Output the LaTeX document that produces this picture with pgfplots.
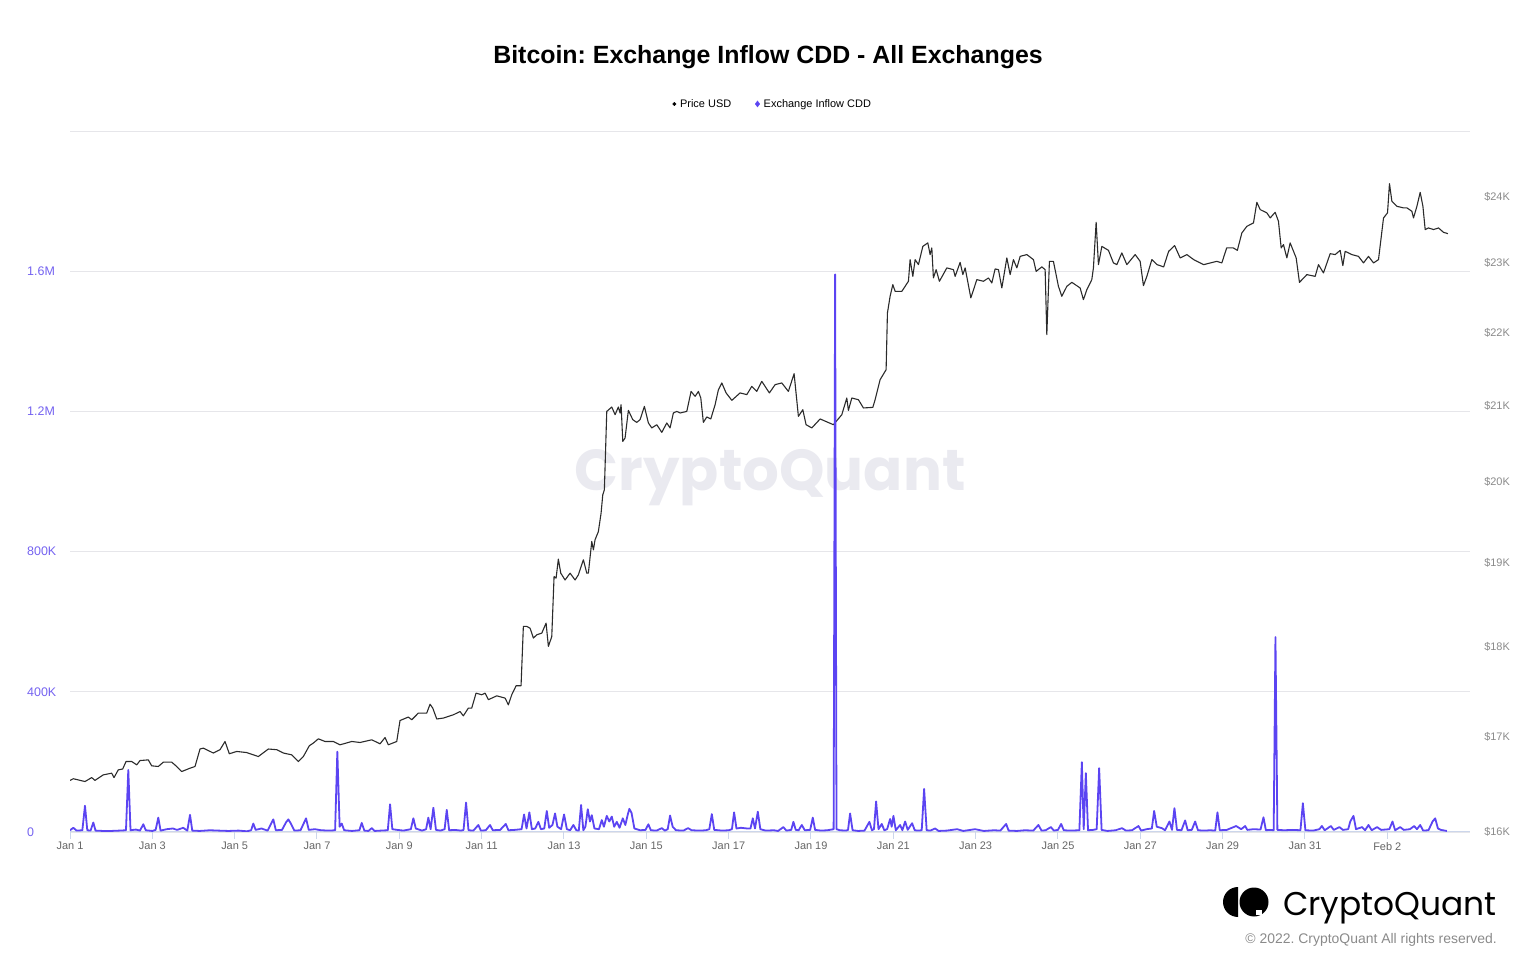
\documentclass[border=0pt]{standalone}
\usepackage{pgfplots}
\pgfplotsset{compat=1.18}
\usepackage{pgfplotstable}
\usepackage{fontspec}
\setmainfont{Liberation Sans}
\newfontfamily\poppins{Poppins}
\frenchspacing
\definecolor{cdd}{HTML}{5B44F2}
\definecolor{cddlab}{HTML}{7462F0}
\definecolor{gridc}{HTML}{E6E6EA}
\definecolor{axc}{HTML}{CCD6EB}
\definecolor{wmc}{HTML}{EAEAF0}
\definecolor{labc}{HTML}{666666}
\definecolor{rlabc}{HTML}{8A8A8A}
\definecolor{pricec}{HTML}{2B2B2B}

\pgfplotstableread{
day price
0.000 16533
0.080 16551
0.364 16522
0.527 16564
0.607 16533
0.809 16593
1.013 16611
1.069 16564
1.173 16646
1.280 16654
1.361 16735
1.499 16735
1.621 16699
1.701 16745
1.902 16753
1.985 16689
2.145 16681
2.267 16728
2.471 16728
2.592 16681
2.714 16628
2.915 16664
3.037 16681
3.158 16868
3.239 16878
3.482 16825
3.644 16860
3.766 16950
3.870 16817
4.050 16842
4.293 16831
4.575 16788
4.818 16868
5.022 16860
5.182 16825
5.386 16806
5.547 16735
5.668 16788
5.814 16903
5.911 16932
6.033 16979
6.195 16950
6.397 16950
6.560 16914
6.844 16950
7.046 16939
7.330 16968
7.532 16925
7.653 16993
7.733 16914
7.937 16950
8.017 17178
8.219 17216
8.302 17186
8.462 17260
8.666 17260
8.746 17359
8.812 17315
8.909 17194
9.070 17205
9.312 17241
9.475 17277
9.555 17230
9.677 17315
9.759 17315
9.864 17482
10.002 17463
10.083 17482
10.163 17407
10.367 17452
10.569 17426
10.649 17352
10.731 17463
10.836 17563
10.957 17563
11.013 18241
11.096 18241
11.176 18222
11.256 18106
11.339 18145
11.460 18164
11.565 18281
11.621 18010
11.703 18125
11.759 18833
11.808 18814
11.863 19043
11.922 18874
12.026 18793
12.148 18874
12.269 18793
12.349 18853
12.471 19035
12.553 18874
12.592 18874
12.675 19259
12.714 19157
12.755 19280
12.835 19382
12.901 19611
12.942 19842
12.981 19905
13.039 20925
13.161 20984
13.241 20881
13.321 20984
13.362 20904
13.387 21015
13.428 20528
13.484 20573
13.564 20939
13.671 20815
13.768 20779
13.848 20815
13.953 20992
14.050 20771
14.133 20705
14.254 20748
14.376 20647
14.497 20771
14.577 20705
14.657 20904
14.740 20925
14.820 20904
14.983 20925
15.087 21194
15.185 21127
15.265 21194
15.323 21105
15.386 20779
15.469 20851
15.566 20824
15.671 21015
15.751 21217
15.834 21308
15.938 21173
16.077 21073
16.278 21173
16.441 21150
16.562 21262
16.683 21194
16.805 21330
16.990 21173
17.128 21285
17.291 21308
17.451 21194
17.590 21435
17.694 20859
17.801 20948
17.881 20748
18.020 20705
18.222 20824
18.545 20748
18.749 20881
18.870 21105
18.909 20939
18.992 21105
19.152 21082
19.274 20971
19.502 20979
19.558 21082
19.679 21353
19.825 21490
19.857 22282
19.922 22520
19.988 22689
20.044 22592
20.207 22592
20.367 22737
20.408 23054
20.474 22809
20.530 23054
20.610 22980
20.717 23250
20.838 23301
20.894 23128
20.935 23227
20.974 22786
21.040 22907
21.120 22737
21.300 22932
21.460 22907
21.502 22809
21.623 23014
21.689 22834
21.745 22932
21.883 22497
22.029 22761
22.189 22737
22.311 22786
22.393 22713
22.473 22917
22.554 22907
22.636 22641
22.758 23079
22.838 22834
22.918 23054
23.001 22932
23.081 23102
23.243 23128
23.404 23054
23.469 22882
23.608 22947
23.688 22907
23.729 21976
23.792 23029
23.889 23029
24.011 22664
24.093 22520
24.215 22664
24.336 22722
24.538 22641
24.618 22472
24.701 22616
24.822 22761
24.861 22932
24.927 23610
24.983 22980
25.066 23250
25.226 23191
25.347 23005
25.430 22980
25.551 23153
25.673 22980
25.875 23128
25.996 23029
26.076 22674
26.159 22809
26.280 23054
26.407 22980
26.567 22947
26.688 23176
26.834 23261
26.968 23079
27.131 23128
27.296 23054
27.539 22980
27.859 23029
27.980 23005
28.098 23227
28.260 23227
28.357 23191
28.467 23450
28.588 23549
28.749 23600
28.831 23913
28.912 23802
29.074 23752
29.155 23676
29.276 23761
29.356 23625
29.422 23227
29.478 23276
29.560 23079
29.640 23301
29.786 23079
29.866 22722
30.046 22834
30.248 22809
30.328 22980
30.449 22859
30.612 23142
30.733 23128
30.855 23191
30.920 22966
30.976 23176
31.139 23128
31.300 23102
31.421 23005
31.543 23102
31.665 23005
31.786 23054
31.908 23676
32.005 23752
32.053 24200
32.111 23928
32.233 23852
32.393 23828
32.476 23828
32.597 23776
32.636 23676
32.719 23852
32.799 24066
32.865 23852
32.920 23500
33.001 23525
33.122 23500
33.244 23525
33.365 23459
33.472 23440
}\pricetable

\pgfplotstableread{
day cdd
0.00 5000
0.08 12000
0.16 4000
0.30 5000
0.364 75000
0.42 5000
0.50 4000
0.566 27000
0.62 4000
0.80 3000
1.00 3000
1.20 4000
1.36 5000
1.416 177000
1.47 5000
1.60 7000
1.70 4000
1.781 22000
1.84 5000
2.00 3000
2.08 6000
2.145 41000
2.20 4000
2.35 8000
2.50 10000
2.60 6000
2.75 12000
2.85 4000
2.915 49000
2.97 4000
3.15 3000
3.40 5000
3.60 4000
3.85 3000
4.10 4000
4.30 2000
4.40 5000
4.453 24000
4.51 6000
4.65 10000
4.80 4000
4.939 36000
5.00 5000
5.15 6000
5.25 28000
5.304 36000
5.36 25000
5.45 4000
5.60 5000
5.734 39000
5.80 6000
5.95 8000
6.10 5000
6.30 4000
6.44 5000
6.494 229000
6.55 15000
6.601 24000
6.66 5000
6.85 3000
7.03 5000
7.087 26000
7.15 4000
7.25 3000
7.33 11000
7.40 3000
7.55 4000
7.72 5000
7.775 79000
7.83 8000
7.95 6000
8.10 4000
8.28 8000
8.341 39000
8.40 10000
8.55 4000
8.65 8000
8.705 41000
8.76 8000
8.827 69000
8.89 6000
9.00 4000
9.10 8000
9.152 63000
9.21 5000
9.35 6000
9.50 4000
9.56 6000
9.621 84000
9.68 5000
9.80 4000
9.92 20000
9.98 4000
10.10 5000
10.204 20000
10.27 5000
10.45 6000
10.586 23000
10.65 5000
10.80 6000
10.97 8000
11.030 50000
11.09 10000
11.159 56000
11.22 8000
11.30 10000
11.378 29000
11.44 8000
11.52 10000
11.582 60000
11.64 12000
11.72 20000
11.783 53000
11.84 15000
11.93 8000
12.002 50000
12.07 8000
12.15 5000
12.228 20000
12.30 5000
12.36 4000
12.415 77000
12.47 5000
12.52 15000
12.578 65000
12.63 30000
12.675 48000
12.74 10000
12.85 8000
12.918 34000
12.97 15000
13.039 46000
13.10 30000
13.161 44000
13.22 15000
13.282 29000
13.35 12000
13.428 39000
13.49 20000
13.55 50000
13.588 66000
13.64 55000
13.71 10000
13.85 5000
13.98 6000
14.050 22000
14.11 5000
14.25 4000
14.376 11000
14.45 4000
14.52 8000
14.577 47000
14.64 15000
14.72 5000
14.90 4000
15.015 11000
15.10 5000
15.30 4000
15.45 5000
15.53 8000
15.591 51000
15.65 6000
15.85 4000
16.00 5000
16.08 8000
16.132 56000
16.19 10000
16.30 12000
16.45 10000
16.53 10000
16.587 39000
16.64 10000
16.708 58000
16.77 8000
16.90 4000
17.10 5000
17.20 3000
17.330 14000
17.40 4000
17.52 6000
17.573 29000
17.63 6000
17.70 5000
17.777 20000
17.85 5000
17.98 6000
18.044 41000
18.10 6000
18.25 4000
18.40 5000
18.55 8000
18.586 1591000
18.62 8000
18.70 5000
18.85 4000
18.90 6000
18.950 53000
19.01 5000
19.15 3000
19.30 4000
19.419 29000
19.48 5000
19.53 8000
19.582 87000
19.64 8000
19.720 23000
19.78 5000
19.85 8000
19.922 37000
19.96 15000
20.003 46000
20.06 5000
20.165 20000
20.22 5000
20.287 30000
20.35 6000
20.457 25000
20.52 5000
20.60 4000
20.69 5000
20.748 123000
20.81 5000
20.90 4000
21.015 10000
21.10 3000
21.30 4000
21.550 8000
21.70 3000
21.987 8000
22.20 3000
22.45 5000
22.60 4000
22.741 23000
22.80 4000
23.00 3000
23.20 5000
23.40 4000
23.525 20000
23.60 4000
23.70 5000
23.827 14000
23.90 4000
24.00 6000
24.077 23000
24.14 5000
24.30 4000
24.52 5000
24.580 199000
24.625 8000
24.677 168000
24.73 5000
24.85 6000
24.94 8000
25.000 182000
25.06 6000
25.20 3000
25.40 5000
25.556 11000
25.65 4000
25.80 5000
25.955 17000
26.02 4000
26.15 8000
26.28 10000
26.336 60000
26.40 15000
26.523 11000
26.60 5000
26.708 30000
26.77 6000
26.829 68000
26.89 6000
27.00 5000
27.089 33000
27.15 5000
27.25 6000
27.332 30000
27.40 5000
27.55 4000
27.70 5000
27.82 4000
27.874 56000
27.93 5000
28.10 6000
28.328 17000
28.45 8000
28.547 17000
28.60 6000
28.75 8000
28.92 7000
28.992 42000
29.05 5000
29.15 6000
29.24 5000
29.283 556000
29.33 6000
29.50 5000
29.70 6000
29.89 5000
29.949 82000
30.01 5000
30.20 4000
30.35 8000
30.410 17000
30.48 5000
30.629 17000
30.70 6000
30.838 14000
30.92 6000
31.05 8000
31.10 30000
31.178 46000
31.24 8000
31.387 14000
31.46 5000
31.543 20000
31.62 5000
31.751 14000
31.85 6000
32.05 8000
32.126 30000
32.19 5000
32.313 14000
32.40 6000
32.55 8000
32.652 17000
32.72 8000
32.799 20000
32.87 4000
33.00 5000
33.10 30000
33.163 39000
33.23 10000
33.30 6000
33.447 3000
}\cddtable

\begin{document}
\begin{tikzpicture}[x=1bp,y=1bp]
\path[use as bounding box] (0,0) rectangle (1536,967);
% title
\node[font=\fontsize{25}{29}\selectfont\bfseries] at (768,910) {Bitcoin: Exchange Inflow CDD - All Exchanges};
% watermark
\node[font=\fontsize{58}{62}\selectfont\poppins\bfseries, text=wmc] at (770,489) {CryptoQuant};

% axis 1: grid, x axis, left labels
\begin{axis}[
  at={(70bp,135bp)}, anchor=south west, scale only axis,
  width=1400bp, height=701bp,
  xmin=0, xmax=34.01, ymin=0, ymax=2000000,
  axis x line*=bottom, axis y line*=left,
  x axis line style={draw=axc, line width=1bp, -},
  y axis line style={draw=none},
  xtick={0,2,...,32},
  xticklabels={Jan 1,Jan 3,Jan 5,Jan 7,Jan 9,Jan 11,Jan 13,Jan 15,Jan 17,Jan 19,Jan 21,Jan 23,Jan 25,Jan 27,Jan 29,Jan 31,Feb 2},
  xtick style={draw=axc, line width=1bp},
  tick align=outside, major tick length=7bp,
  xticklabel style={font=\fontsize{11}{13}\selectfont, text=labc, inner sep=0pt, anchor=north, yshift=-3bp},
  ytick={0,400000,800000,1200000,1600000},
  yticklabels={0,400K,800K,1.2M,1.6M},
  ytick style={draw=none},
  yticklabel style={font=\fontsize{12.5}{14}\selectfont, text=cddlab, inner sep=0pt, anchor=west, xshift=-36bp},
  extra y ticks={2000000}, extra y tick labels={},
  extra y tick style={ytick style={draw=none}},
  ymajorgrids, grid style={draw=gridc, line width=0.9bp},
  scaled y ticks=false,
  clip=false,
]
\end{axis}

% axis 2: price (log, right)
\begin{axis}[
  at={(70bp,135bp)}, anchor=south west, scale only axis,
  width=1400bp, height=701bp,
  xmin=0, xmax=34.01, ymode=log, ymin=16000, ymax=25030,
  axis x line=none, axis y line*=right,
  y axis line style={draw=none},
  ytick={16000,17000,18000,19000,20000,21000,22000,23000,24000},
  yticklabels={\$16K,\$17K,\$18K,\$19K,\$20K,\$21K,\$22K,\$23K,\$24K},
  ytick style={draw=none},
  minor ytick={},
  yticklabel style={font=\fontsize{11}{13}\selectfont, text=rlabc, inner sep=0pt, anchor=west, xshift=14bp},
]
\addplot[pricec, line width=1.1bp, line join=round] table[x=day, y=price] {\pricetable};
\end{axis}

% axis 3: CDD line + legend
\begin{axis}[
  at={(70bp,135bp)}, anchor=south west, scale only axis,
  width=1400bp, height=701bp,
  xmin=0, xmax=34.01, ymin=0, ymax=2000000,
  axis lines=none,
  legend style={at={(0.502,1.0385)}, anchor=center, draw=none, fill=none,
    font=\fontsize{11}{13}\selectfont, legend columns=2,
    /tikz/every odd column/.append style={column sep=2bp},
    /tikz/every even column/.append style={column sep=22bp}},
  legend cell align=left,
]
\addlegendimage{only marks, mark=*, mark size=1.7bp, black}
\addlegendentry{Price USD}
\addlegendimage{only marks, mark=diamond*, mark size=3bp, cdd}
\addlegendentry{Exchange Inflow CDD}
\addplot[cdd, line width=1.8bp, line join=round] table[x=day, y=cdd] {\cddtable};
\end{axis}

% logo
\fill[black] (1238,50) arc (270:90:15) -- cycle;
\fill[black] (1254,65) circle (14.5);
\fill[white] (1256,52) rectangle (1262,57);
\node[font=\fontsize{33}{36}\selectfont\poppins, anchor=base east, inner sep=0pt] at (1497,52) {CryptoQuant};
\node[font=\fontsize{14}{16}\selectfont, text=rlabc, anchor=base east, inner sep=0pt] at (1497,24) {\textcopyright{} 2022. CryptoQuant All rights reserved.};
\end{tikzpicture}
\end{document}
